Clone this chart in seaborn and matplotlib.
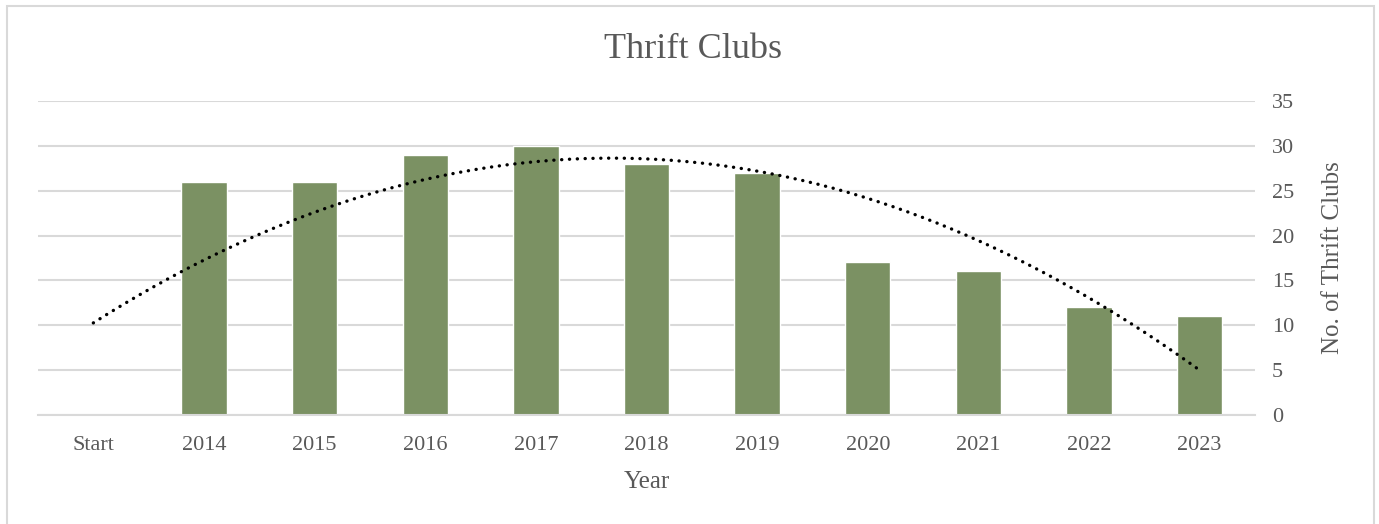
import matplotlib
matplotlib.use('Agg')
import numpy as np
import pandas as pd
import seaborn as sns
from matplotlib import pyplot as plt
from matplotlib.patches import Rectangle

# data
years = ["Start", "2014", "2015", "2016", "2017", "2018", "2019", "2020", "2021", "2022", "2023"]
clubs = [0, 26, 26, 29, 30, 28, 27, 17, 16, 12, 11]

bar_color = "#7b9163"
text_color = "#595959"
grid_color = "#d9d9d9"

sns.set_theme(style="white")
plt.rcParams['font.family'] = ['Liberation Serif', 'DejaVu Serif']

df = pd.DataFrame({'Year': years, 'Clubs': clubs})

fig = plt.figure(figsize=(13.79, 5.24), dpi=100)
ax = fig.add_axes([38 / 1379, 1 - 415 / 524, (1255 - 38) / 1379, (415 - 101) / 524])

sns.barplot(data=df, x='Year', y='Clubs', color=bar_color, width=0.41,
            saturation=1, ax=ax, zorder=2)

# polynomial (order 2) trendline like Excel's
xs = np.arange(1, len(clubs) + 1)
coef = np.polyfit(xs, clubs, 2)
xfine = np.linspace(1, len(clubs), 300)
ax.plot(xfine - 1, np.polyval(coef, xfine), color="black", linestyle=(0, (0.05, 2.3)),
        linewidth=2.4, dash_capstyle='round', zorder=3)

ax.set_ylim(0, 35)
ax.set_xlim(-0.5, len(years) - 0.5)
ax.set_yticks(range(0, 36, 5))
ax.yaxis.tick_right()
ax.yaxis.set_label_position('right')
ax.grid(axis='y', color=grid_color, linewidth=1.5, zorder=0)
ax.set_axisbelow(True)
for s in ['top', 'left', 'right']:
    ax.spines[s].set_visible(False)
ax.spines['bottom'].set_color(grid_color)
ax.spines['bottom'].set_linewidth(1.5)
ax.tick_params(axis='both', length=0, labelsize=16, labelcolor=text_color)
ax.tick_params(axis='x', pad=15)
ax.tick_params(axis='y', pad=12)

ax.set_xlabel('Year', fontsize=18, color=text_color, labelpad=12)
ax.set_ylabel('No. of Thrift Clubs', fontsize=18, color=text_color, labelpad=20)
fig.text(693 / 1379, 1 - 49 / 524, 'Thrift Clubs', ha='center', va='center',
         fontsize=26, color=text_color)

# chart border
fig.patches.append(Rectangle((7 / 1379, -0.05), (1374 - 7) / 1379, 1.05 - 6 / 524,
                             transform=fig.transFigure, fill=False,
                             edgecolor=grid_color, linewidth=1.5))

plt.savefig('out.png', dpi=100)
plt.close()
